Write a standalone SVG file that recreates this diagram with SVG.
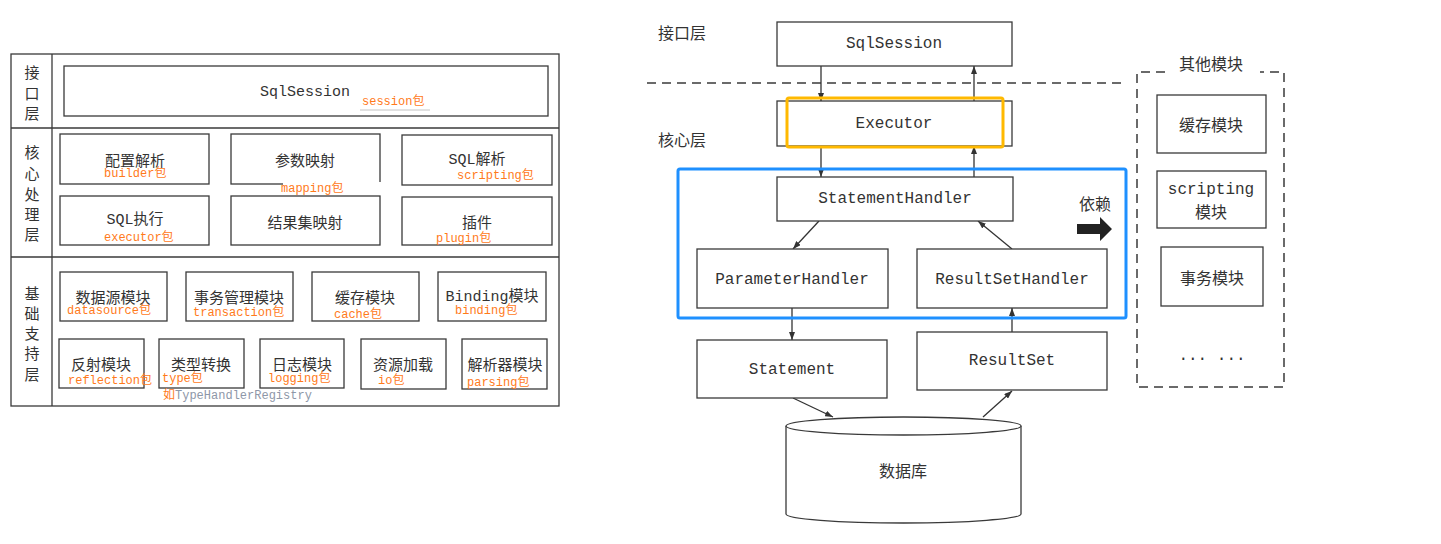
<svg xmlns="http://www.w3.org/2000/svg" width="1441" height="544" viewBox="0 0 1441 544">
<style>
.box{fill:#fff;stroke:#3a3a3a;stroke-width:1.3}
.frame{fill:none;stroke:#3a3a3a;stroke-width:1.3}
.dash{fill:none;stroke:#3a3a3a;stroke-width:1.5;stroke-dasharray:9 6}
.m{font-family:"Liberation Mono","DejaVu Sans Mono","Noto Sans CJK SC",monospace;fill:#333;text-anchor:middle;dominant-baseline:central}
.cn{font-family:"Noto Sans CJK SC",sans-serif;fill:#333;text-anchor:middle;dominant-baseline:central}
.pkg{font-family:"Liberation Mono","Noto Sans CJK SC",monospace;fill:#ff7a1a;font-size:12px;dominant-baseline:central}
.s15{font-size:15px}
.s16{font-size:16px}
.con{stroke:#333;stroke-width:1.3;fill:none}
</style>
<defs>
<marker id="ah" viewBox="0 0 8 6" refX="8" refY="3" markerWidth="8" markerHeight="6" markerUnits="userSpaceOnUse" orient="auto">
<path d="M0,0 L8,3 L0,6 z" fill="#333"/>
</marker>
</defs>
<rect width="1441" height="544" fill="#fff"/>

<!-- LEFT DIAGRAM -->
<g id="left-frame">
<rect x="11" y="54" width="548" height="352" class="frame"/>
<line x1="52" y1="54" x2="52" y2="406" class="frame"/>
<line x1="11" y1="128" x2="559" y2="128" class="frame"/>
<line x1="11" y1="257" x2="559" y2="257" class="frame"/>
</g>
<g id="layer-interface">
<text class="cn s15" x="32" y="71">接</text>
<text class="cn s15" x="32" y="92">口</text>
<text class="cn s15" x="32" y="112">层</text>
</g>
<g id="layer-core">
<text class="cn s15" x="32" y="151">核</text>
<text class="cn s15" x="32" y="172">心</text>
<text class="cn s15" x="32" y="193">处</text>
<text class="cn s15" x="32" y="213">理</text>
<text class="cn s15" x="32" y="233">层</text>
</g>
<g id="layer-base">
<text class="cn s15" x="32" y="292">基</text>
<text class="cn s15" x="32" y="312">础</text>
<text class="cn s15" x="32" y="332">支</text>
<text class="cn s15" x="32" y="352">持</text>
<text class="cn s15" x="32" y="373">层</text>
</g>

<g id="l-sqlsession">
<rect x="64" y="66" width="484" height="50" class="box"/>
<text class="m s15" x="305" y="92">SqlSession</text>
<line x1="360" y1="110" x2="430" y2="110" stroke="#c4c4c4" stroke-width="1"/>
<text class="pkg" x="362" y="102">session包</text>
</g>

<g id="l-config">
<rect x="60" y="134" width="149" height="50" class="box"/>
<text class="cn s15" x="135" y="159">配置解析</text>
<text class="pkg" x="104" y="174">builder包</text>
</g>
<g id="l-param">
<rect x="231" y="134" width="149" height="50" class="box"/>
<text class="cn s15" x="305" y="159">参数映射</text>
<rect x="283" y="182" width="137" height="6" fill="#fff"/>
<text class="pkg" x="281" y="189">mapping包</text>
</g>
<g id="l-sqlparse">
<rect x="402" y="135" width="150" height="50" class="box"/>
<text class="m s15" x="477" y="160">SQL解析</text>
<text class="pkg" x="457" y="176">scripting包</text>
</g>
<g id="l-sqlexec">
<rect x="60" y="196" width="149" height="49" class="box"/>
<text class="m s15" x="135" y="220">SQL执行</text>
<text class="pkg" x="104" y="238">executor包</text>
</g>
<g id="l-resultmap">
<rect x="231" y="196" width="149" height="49" class="box"/>
<text class="cn s15" x="305" y="221">结果集映射</text>
</g>
<g id="l-plugin">
<rect x="402" y="197" width="150" height="48" class="box"/>
<text class="cn s15" x="477" y="221">插件</text>
<text class="pkg" x="436" y="239">plugin包</text>
</g>

<g id="l-datasource">
<rect x="60" y="272" width="107" height="49" class="box"/>
<text class="cn s15" x="113" y="296">数据源模块</text>
<text class="pkg" x="67" y="311">datasource包</text>
</g>
<g id="l-transaction">
<rect x="186" y="272" width="107" height="49" class="box"/>
<text class="cn s15" x="239" y="296">事务管理模块</text>
<text class="pkg" x="193" y="313">transaction包</text>
</g>
<g id="l-cache">
<rect x="312" y="272" width="107" height="49" class="box"/>
<text class="cn s15" x="365" y="296">缓存模块</text>
<text class="pkg" x="334" y="315">cache包</text>
</g>
<g id="l-binding">
<rect x="438" y="272" width="108" height="49" class="box"/>
<text class="m s15" x="492" y="297">Binding模块</text>
<text class="pkg" x="455" y="311">binding包</text>
</g>

<g id="l-reflection">
<rect x="59" y="339" width="85" height="49" class="box"/>
<text class="cn s15" x="101" y="363">反射模块</text>
<text class="pkg" x="68" y="381">reflection包</text>
</g>
<g id="l-type">
<rect x="159" y="339" width="85" height="49" class="box"/>
<text class="cn s15" x="201" y="363">类型转换</text>
<text class="pkg" x="162" y="379">type包</text>
<text class="pkg" x="163" y="396"><tspan fill="#ff7a1a">如</tspan><tspan fill="#8e97a8">TypeHandlerRegistry</tspan></text>
</g>
<g id="l-logging">
<rect x="260" y="339" width="84" height="49" class="box"/>
<text class="cn s15" x="302" y="363">日志模块</text>
<text class="pkg" x="268" y="379">logging包</text>
</g>
<g id="l-io">
<rect x="361" y="339" width="85" height="50" class="box"/>
<text class="cn s15" x="403" y="363">资源加载</text>
<text class="pkg" x="378" y="381">io包</text>
</g>
<g id="l-parsing">
<rect x="462" y="339" width="85" height="50" class="box"/>
<text class="cn s15" x="505" y="363">解析器模块</text>
<text class="pkg" x="467" y="383">parsing包</text>
</g>

<!-- RIGHT DIAGRAM -->
<g id="r-labels">
<text class="cn s16" x="682" y="32">接口层</text>
<text class="cn s16" x="682" y="139">核心层</text>
<line x1="647" y1="83" x2="1122" y2="83" class="dash"/>
</g>

<g id="connectors">
<line x1="821" y1="66" x2="821" y2="101" class="con" marker-end="url(#ah)"/>
<line x1="974" y1="101" x2="974" y2="66" class="con" marker-end="url(#ah)"/>
<line x1="821" y1="146" x2="821" y2="177" class="con" marker-end="url(#ah)"/>
<line x1="974" y1="177" x2="974" y2="146" class="con" marker-end="url(#ah)"/>
<line x1="819" y1="221" x2="793" y2="249" class="con" marker-end="url(#ah)"/>
<line x1="1012" y1="249" x2="978" y2="221" class="con" marker-end="url(#ah)"/>
<line x1="792" y1="308" x2="792" y2="340" class="con" marker-end="url(#ah)"/>
<line x1="1012" y1="332" x2="1012" y2="308" class="con" marker-end="url(#ah)"/>
<line x1="793" y1="398" x2="833" y2="417" class="con" marker-end="url(#ah)"/>
<line x1="983" y1="417" x2="1012" y2="391" class="con" marker-end="url(#ah)"/>
</g>

<g id="r-sqlsession">
<rect x="777" y="22" width="235" height="44" class="box"/>
<text class="m s16" x="894" y="44">SqlSession</text>
</g>
<g id="r-executor">
<rect x="777" y="101" width="235" height="45" class="box"/>
<text class="m s16" x="894" y="124">Executor</text>
<rect x="787" y="98" width="216" height="49" rx="2" fill="none" stroke="#ffb900" stroke-width="3"/>
</g>
<g id="r-statementhandler">
<rect x="777" y="177" width="236" height="44" class="box"/>
<text class="m s16" x="895" y="199">StatementHandler</text>
</g>
<g id="r-parameterhandler">
<rect x="697" y="249" width="191" height="59" class="box"/>
<text class="m s16" x="792" y="280">ParameterHandler</text>
</g>
<g id="r-resultsethandler">
<rect x="917" y="249" width="190" height="59" class="box"/>
<text class="m s16" x="1012" y="280">ResultSetHandler</text>
</g>
<g id="r-highlight">
<rect x="678" y="169" width="448" height="149" rx="2" fill="none" stroke="#1e90ff" stroke-width="3"/>
</g>
<g id="r-depends">
<text class="cn s16" x="1095" y="203">依赖</text>
<path d="M1077,224 L1100,224 L1100,217 L1112,229 L1100,241 L1100,234 L1077,234 z" fill="#222"/>
</g>
<g id="r-statement">
<rect x="697" y="340" width="190" height="58" class="box"/>
<text class="m s16" x="792" y="370">Statement</text>
</g>
<g id="r-resultset">
<rect x="917" y="332" width="190" height="58" class="box"/>
<text class="m s16" x="1012" y="361">ResultSet</text>
</g>
<g id="r-database">
<path d="M786,426 L786,514 A117.5,9 0 0 0 1021,514 L1021,426" class="box"/>
<ellipse cx="903.5" cy="426" rx="117.5" ry="9" class="box"/>
<text class="cn s16" x="903" y="470">数据库</text>
</g>

<g id="r-others">
<path d="M1165,72 L1137,72 L1137,387 L1284,387 L1284,72 L1260,72" class="dash"/>
<text class="cn s16" x="1211" y="63">其他模块</text>
</g>
<g id="r-cache">
<rect x="1157" y="95" width="109" height="58" class="box"/>
<text class="cn s16" x="1211" y="124">缓存模块</text>
</g>
<g id="r-scripting">
<rect x="1157" y="171" width="109" height="57" class="box"/>
<text class="m s16" x="1211" y="190">scripting</text>
<text class="cn s16" x="1211" y="211">模块</text>
</g>
<g id="r-transaction">
<rect x="1161" y="247" width="102" height="59" class="box"/>
<text class="cn s16" x="1212" y="277">事务模块</text>
</g>
<g id="r-more">
<text class="m s16" x="1212" y="356">... ...</text>
</g>
</svg>
